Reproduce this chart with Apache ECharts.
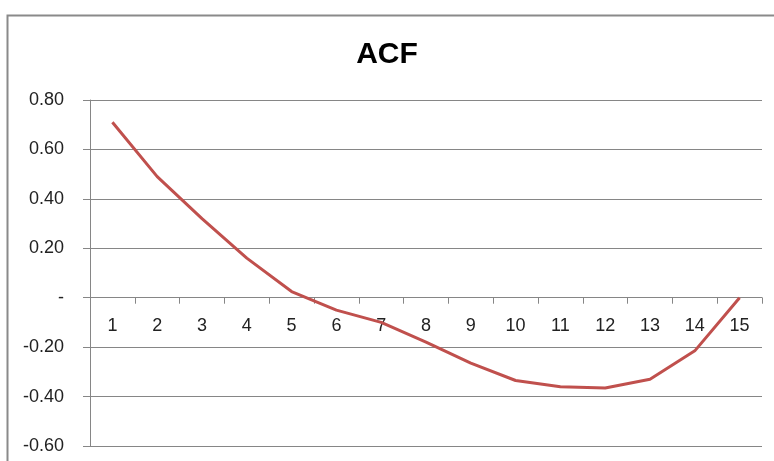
<!DOCTYPE html>
<html>
<head>
<meta charset="utf-8">
<script src="https://cdn.jsdelivr.net/npm/echarts@6/dist/echarts.min.js"></script>
<style>html,body{margin:0;padding:0;background:#fff;}#c{width:774px;height:461px;}</style>
</head>
<body>
<div id="c"></div>
<script>
var categories = ['1','2','3','4','5','6','7','8','9','10','11','12','13','14','15'];
var acfValues = [0.71, 0.49, 0.32, 0.16, 0.025, -0.05, -0.10, -0.18, -0.265, -0.335, -0.36, -0.365, -0.33, -0.215, 0.0];
var yMin = -0.6, yMax = 0.8, yStep = 0.2;

var chart = echarts.init(document.getElementById('c'));
chart.setOption({
  animation: false,
  backgroundColor: '#fff',
  title: {
    text: 'ACF', left: 'center', top: 35,
    textStyle: { fontFamily: 'Liberation Sans', fontWeight: 'bold', fontSize: 30, color: '#000' }
  },
  graphic: [{
    type: 'rect', left: 5, top: 13, shape: { width: 800, height: 500 },
    style: { fill: 'none', stroke: '#8a8a8a', lineWidth: 2 }, silent: true
  }],
  grid: { left: 90, right: 12, top: 100, bottom: 15, containLabel: false, outerBoundsMode: 'none' },
  xAxis: {
    type: 'category', data: categories, boundaryGap: true,
    axisLine: { onZero: true, lineStyle: { color: '#868686', width: 1 } },
    axisTick: { show: true, length: 6, inside: false, lineStyle: { color: '#868686' } },
    axisLabel: { margin: -129, fontFamily: 'Liberation Sans', fontSize: 18, color: '#222' },
    splitLine: { show: false }
  },
  yAxis: {
    type: 'value', min: yMin, max: yMax, interval: yStep,
    axisLine: { show: true, lineStyle: { color: '#868686', width: 1 } },
    axisTick: { show: true, length: 7, lineStyle: { color: '#868686' } },
    axisLabel: {
      margin: 26, fontFamily: 'Liberation Sans', fontSize: 18, color: '#222',
      formatter: function (v) { return Math.abs(v) < 1e-9 ? '-' : v.toFixed(2); }
    },
    splitLine: { show: true, lineStyle: { color: '#868686', width: 1 } }
  },
  series: [{
    type: 'line', data: acfValues, symbol: 'none', smooth: false,
    lineStyle: { color: '#c0504d', width: 3 }
  }]
});
</script>
</body>
</html>
